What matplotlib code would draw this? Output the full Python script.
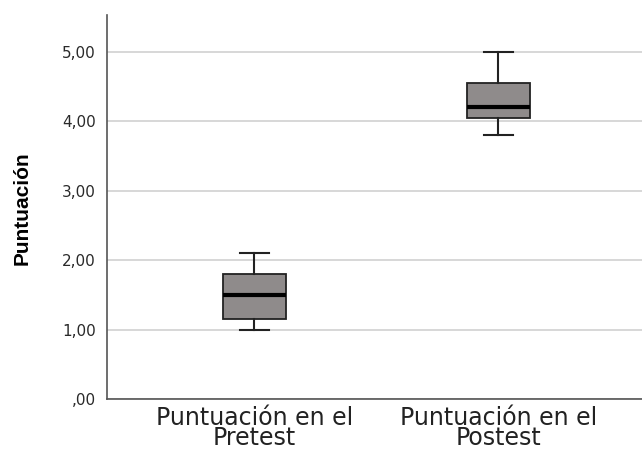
import matplotlib
matplotlib.use("Agg")
import matplotlib.pyplot as plt

categories = ["Puntuación en el\nPretest", "Puntuación en el\nPostest"]
whisker_low = [1.00, 3.80]
q1 = [1.15, 4.05]
median = [1.50, 4.20]
q3 = [1.80, 4.55]
whisker_high = [2.10, 5.00]
yticks = [0, 1, 2, 3, 4, 5]
ytick_labels = [",00", "1,00", "2,00", "3,00", "4,00", "5,00"]

plt.rcParams['font.family'] = ['DejaVu Sans']

fig = plt.figure(figsize=(6.42, 4.49), dpi=100)
ax = fig.add_axes([0.1667, 0.1114, 0.8333, 0.8552])

stats = []
for i, lab in enumerate(categories):
    stats.append(dict(label=lab, whislo=whisker_low[i], q1=q1[i], med=median[i],
                      q3=q3[i], whishi=whisker_high[i], fliers=[]))

ax.bxp(stats, positions=[1, 2], widths=0.26, patch_artist=True, showfliers=False,
       boxprops=dict(facecolor="#8f8b8b", edgecolor="#222222", linewidth=1.3),
       medianprops=dict(color="black", linewidth=3),
       whiskerprops=dict(color="#222222", linewidth=1.5),
       capprops=dict(color="#222222", linewidth=1.5),
       capwidths=0.12)

ax.set_xlim(0.395, 2.59)
ax.set_ylim(0, 5.53)
ax.set_yticks(yticks)
ax.set_yticklabels(ytick_labels, fontsize=11, color="#2a2a2a")
ax.set_xticks([1, 2])
ax.set_xticklabels(categories, fontsize=17, color="#222222", linespacing=0.78)
ax.tick_params(axis="y", length=0, pad=8)
ax.tick_params(axis="x", length=0, pad=5)
ax.yaxis.grid(True, color="#d4d4d4", linewidth=1.3)
ax.set_axisbelow(True)
for s in ["top", "right"]:
    ax.spines[s].set_visible(False)
for s in ["left", "bottom"]:
    ax.spines[s].set_color("#555555")
    ax.spines[s].set_linewidth(1.2)

fig.text(0.034, 0.536, "Puntuación", rotation=90, va="center", ha="center",
         fontsize=15, fontweight="bold", color="black",
         family=['Liberation Sans', 'DejaVu Sans'])

fig.savefig("out.png", dpi=100)
